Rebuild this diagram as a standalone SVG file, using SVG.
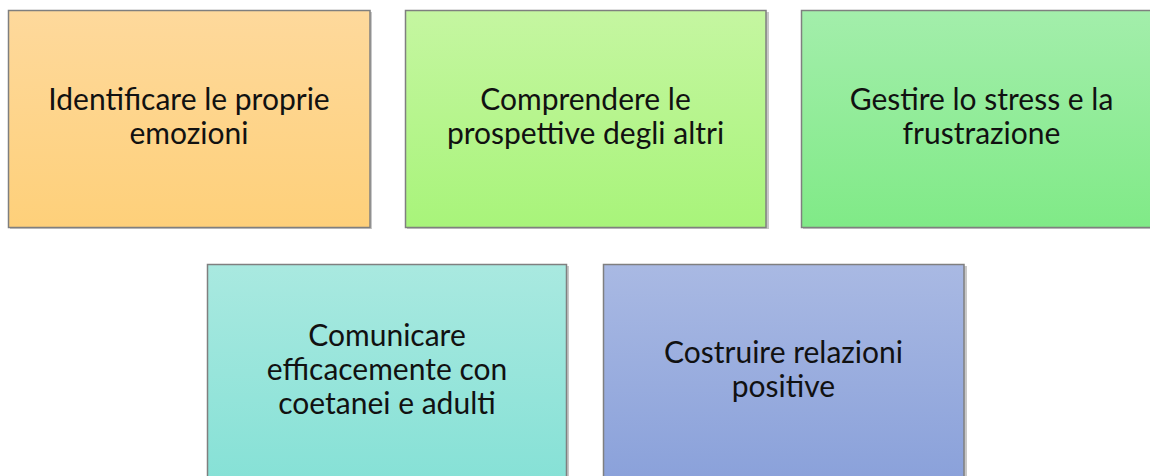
<svg xmlns="http://www.w3.org/2000/svg" width="1150" height="476" viewBox="0 0 1150 476">
<defs>
<linearGradient id="g1" x1="0" y1="0" x2="0" y2="1"><stop offset="0" stop-color="#fed99c"/><stop offset="1" stop-color="#fed07a"/></linearGradient>
<linearGradient id="g2" x1="0" y1="0" x2="0" y2="1"><stop offset="0" stop-color="#c5f6a1"/><stop offset="1" stop-color="#a8f47a"/></linearGradient>
<linearGradient id="g3" x1="0" y1="0" x2="0" y2="1"><stop offset="0" stop-color="#a3eeab"/><stop offset="1" stop-color="#80ea87"/></linearGradient>
<linearGradient id="g4" x1="0" y1="0" x2="0" y2="1"><stop offset="0" stop-color="#a9e9e0"/><stop offset="1" stop-color="#86e1d6"/></linearGradient>
<linearGradient id="g5" x1="0" y1="0" x2="0" y2="1"><stop offset="0" stop-color="#a9b9e3"/><stop offset="1" stop-color="#8aa1da"/></linearGradient>
</defs>
<style>
.box{stroke:#7f7f7f;stroke-width:1.5}
.sh{fill:#c8c8c8}
.t{font-family:Lato,"Open Sans","Liberation Sans",sans-serif;font-size:30px;fill:#111;text-anchor:middle}
</style>
<g id="node1">
<rect class="sh" x="10" y="12" width="362" height="217"/>
<rect class="box" x="8.5" y="10.5" width="361.5" height="217" fill="url(#g1)"/>
<text class="t" x="189" y="110">Identificare le proprie</text>
<text class="t" x="189" y="144">emozioni</text>
</g>
<g id="node2">
<rect class="sh" x="407" y="12" width="362" height="217"/>
<rect class="box" x="405.5" y="10.5" width="360.5" height="217" fill="url(#g2)"/>
<text class="t" x="585.5" y="110">Comprendere le</text>
<text class="t" x="585.5" y="144">prospettive degli altri</text>
</g>
<g id="node3">
<rect class="sh" x="803" y="12" width="362" height="217"/>
<rect class="box" x="801.5" y="10.5" width="361" height="217" fill="url(#g3)"/>
<text class="t" x="981.5" y="110">Gestire lo stress e la</text>
<text class="t" x="981.5" y="144">frustrazione</text>
</g>
<g id="node4">
<rect class="sh" x="209" y="266" width="360" height="217"/>
<rect class="box" x="207.5" y="264.5" width="359" height="217" fill="url(#g4)"/>
<text class="t" x="387" y="346">Comunicare</text>
<text class="t" x="387" y="380">efficacemente con</text>
<text class="t" x="387" y="414">coetanei e adulti</text>
</g>
<g id="node5">
<rect class="sh" x="605" y="266" width="362" height="217"/>
<rect class="box" x="603.5" y="264.5" width="360.5" height="217" fill="url(#g5)"/>
<text class="t" x="783.5" y="363">Costruire relazioni</text>
<text class="t" x="783.5" y="397">positive</text>
</g>
<g id="connectors"></g>
</svg>
